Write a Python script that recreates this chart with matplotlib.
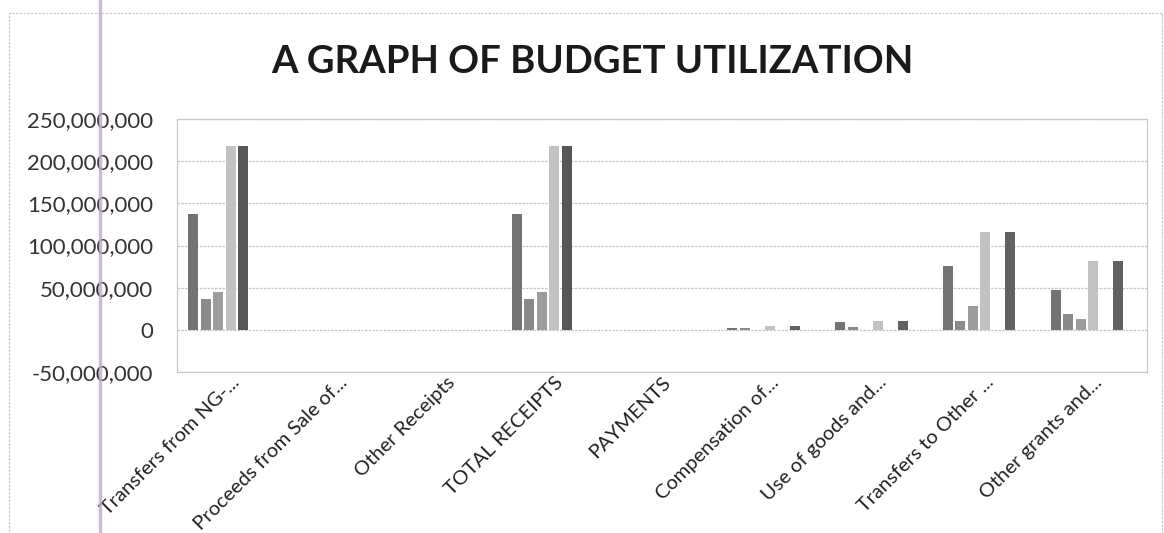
import matplotlib
matplotlib.use("Agg")
import matplotlib.pyplot as plt
import numpy as np
from matplotlib.lines import Line2D
from matplotlib.patches import Rectangle
from matplotlib.ticker import FuncFormatter

plt.rcParams['font.family'] = ['Lato', 'DejaVu Sans']

categories = ["Transfers from NG-...", "Proceeds from Sale of...", "Other Receipts",
              "TOTAL RECEIPTS", "PAYMENTS", "Compensation of...",
              "Use of goods and...", "Transfers to Other ...", "Other grants and..."]

series_1 = [137e6, 0, 0, 137e6, 0, 2.0e6, 9.0e6, 76e6, 47e6]
series_2 = [36.7e6, 0, 0, 36.7e6, 0, 1.6e6, 2.8e6, 9.9e6, 19.3e6]
series_3 = [44.6e6, 0, 0, 44.6e6, 0, 0, 0, 28.4e6, 13.4e6]
series_4 = [218e6, 0, 0, 218e6, 0, 4.7e6, 10.5e6, 115.7e6, 81.8e6]
series_5 = [218e6, 0, 0, 218e6, 0, 0, 0, 0, 0]
series_6 = [0, 0, 0, 0, 0, 5.0e6, 11.0e6, 115.7e6, 81.8e6]
series_7 = [0, 0, 0, 0, 0, 0, 0, 0, 0]

y_ticks = [-50e6, 0, 50e6, 100e6, 150e6, 200e6, 250e6]
title = "A GRAPH OF BUDGET UTILIZATION"

all_series = [series_1, series_2, series_3, series_4, series_5, series_6, series_7]
colors = ["#737373", "#8a8a8a", "#9c9c9c", "#c2c2c2", "#575757", "#626262", "#7a7a7a"]

fig = plt.figure(figsize=(11.64, 5.33), dpi=100)
fig.patch.set_facecolor("white")

ax = fig.add_axes([177/1164, 1 - 372/533, (1147 - 177)/1164, (372 - 119)/533])

x = np.arange(len(categories))
step = 0.116
width = 0.093
n = len(all_series)
for i, (vals, c) in enumerate(zip(all_series, colors)):
    ax.bar(x + (i - (n - 1) / 2) * step, vals, width=width, color=c, zorder=3, linewidth=0)

ax.set_xlim(-0.5, len(categories) - 0.5)
ax.set_ylim(-50e6, 250e6)
ax.set_yticks(y_ticks)
ax.yaxis.set_major_formatter(FuncFormatter(lambda v, p: f"{int(round(v)):,}"))
ax.tick_params(axis='y', length=0, labelsize=16, labelcolor="#333333", pad=17)
ax.grid(axis='y', color="#c6c6c6", linewidth=0.9, linestyle=(0, (2, 1)), zorder=0)
ax.set_xticks(x)
ax.set_xticklabels(categories, rotation=45, ha='right', rotation_mode='anchor',
                   fontsize=14.5, color="#222222")
ax.tick_params(axis='x', length=0, pad=1)
for sp in ax.spines.values():
    sp.set_color("#c8c8c8")
    sp.set_linewidth(0.9)
    sp.set_linestyle((0, (2, 1)))

fig.text(592/1164, 1 - 62/533, title, ha='center', va='center', fontsize=27.5,
         fontweight='bold', color="#1a1a1a")

# outer chart-area border
fig.add_artist(Rectangle((9/1164, -0.05), (1162 - 9)/1164, (533 - 13)/533 + 0.05,
                         transform=fig.transFigure, fill=False, edgecolor="#c8c8c8",
                         linewidth=0.9, linestyle=(0, (2, 1))))
# scan pen mark
fig.add_artist(Line2D([100/1164, 100/1164], [0, 1], transform=fig.transFigure,
                      color="#bcaec6", linewidth=2.5, alpha=0.8))

fig.savefig("out.png", dpi=100, facecolor="white")
